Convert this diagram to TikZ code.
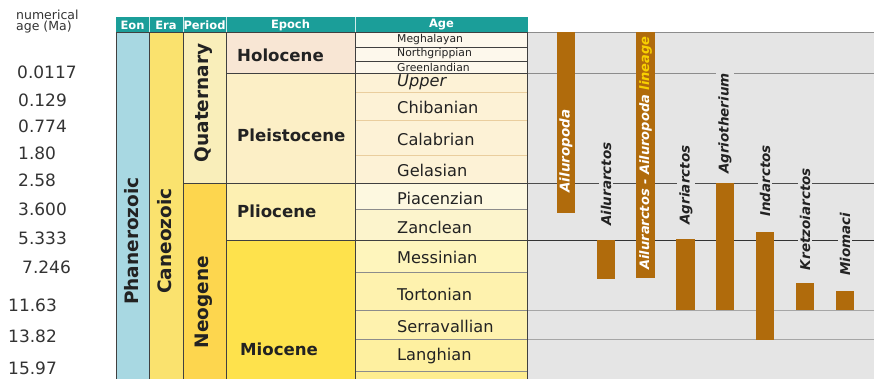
\documentclass[tikz,border=0pt]{standalone}
\usepackage{fontspec}
\setmainfont{DejaVu Sans}
\definecolor{hdr}{RGB}{27,158,153}
\definecolor{eonC}{RGB}{168,216,226}
\definecolor{eraC}{RGB}{250,226,110}
\definecolor{quatC}{RGB}{249,238,186}
\definecolor{neoC}{RGB}{253,214,78}
\definecolor{holC}{RGB}{248,230,212}
\definecolor{pleC}{RGB}{252,239,198}
\definecolor{pliC}{RGB}{253,240,178}
\definecolor{mioC}{RGB}{254,226,76}
\definecolor{holA}{RGB}{253,248,236}
\definecolor{pleA}{RGB}{253,242,214}
\definecolor{pliA}{RGB}{252,244,204}
\definecolor{mioA}{RGB}{254,240,160}
\definecolor{panel}{RGB}{229,229,229}
\definecolor{bar}{RGB}{176,107,12}
\definecolor{linY}{RGB}{248,208,0}
\definecolor{txt}{RGB}{34,34,34}
\definecolor{numT}{RGB}{51,51,51}
\begin{document}
\begin{tikzpicture}[x=1pt,y=-1pt,
  hd/.style={font=\fontsize{11.5}{12}\selectfont\bfseries, text=white, inner sep=0},
  agel/.style={font=\fontsize{16.2}{18}\selectfont, text=txt, anchor=west, inner sep=0},
  agesm/.style={font=\fontsize{10.8}{12}\selectfont, text=txt, anchor=west, inner sep=0},
  epl/.style={font=\fontsize{16.6}{18}\selectfont\bfseries, text=txt, anchor=west, inner sep=0},
  perl/.style={font=\fontsize{18.5}{20}\selectfont\bfseries, text=txt, rotate=90, inner sep=0},
  numl/.style={font=\fontsize{17}{19}\selectfont, text=numT, anchor=west, inner sep=0},
  taxon/.style={font=\fontsize{13.5}{15}\selectfont\bfseries\itshape, text=txt, rotate=90, fill=panel, inner xsep=4, inner ysep=2},
  taxw/.style={font=\fontsize{13.5}{15}\selectfont\bfseries\itshape, text=white, rotate=90, inner sep=0},
  barbox/.style={fill=bar, draw=none},
  cellline/.style={draw=black!75, line width=0.9},
  softline/.style={draw=black!45, line width=0.9},
  faintline/.style={draw=pleC!70!brown, line width=0.6},
]
\useasboundingbox (0,0) rectangle (874,379);
\fill[white] (0,0) rectangle (874,379);

% header
\fill[hdr] (116,17) rectangle (528,32);
\foreach \x in {149,183,226,355} \draw[white!80!hdr, line width=0.8] (\x,17) -- (\x,32);
\node[hd] (hEon) at (132.5,25) {Eon};
\node[hd] (hEra) at (166,25) {Era};
\node[hd] (hPer) at (204.5,25) {Period};
\node[hd] (hEpo) at (290.5,25) {Epoch};
\node[hd] (hAge) at (441.5,25) {Age};

% columns
\fill[eonC] (116,32) rectangle (149,379);
\fill[eraC] (149,32) rectangle (183,379);
\fill[quatC] (183,32) rectangle (226,183);
\fill[neoC] (183,183) rectangle (226,379);
\fill[holC] (226,32) rectangle (355,73);
\fill[pleC] (226,73) rectangle (355,183);
\fill[pliC] (226,183) rectangle (355,240);
\fill[mioC] (226,240) rectangle (355,379);
% ages
\fill[holA] (355,32) rectangle (528,73);
\fill[pleA] (355,73) rectangle (528,183);
\fill[pliA!60!white] (355,183) rectangle (528,209);
\fill[pliA] (355,209) rectangle (528,240);
\fill[mioA!70!white] (355,240) rectangle (528,272);
\fill[mioA!85!white] (355,272) rectangle (528,310);
\fill[mioA!85!white] (355,310) rectangle (528,339);
\fill[mioA] (355,339) rectangle (528,371);
\fill[mioA!80!mioC] (355,371) rectangle (528,379);

% right panel
\fill[panel] (528,32) rectangle (874,379);

% age row lines
\draw[faintline] (355,92) -- (528,92);
\draw[faintline] (355,120) -- (528,120);
\draw[faintline] (355,155) -- (528,155);
\draw[softline] (355,209) -- (528,209);
\draw[softline] (355,272) -- (528,272);
\draw[softline] (355,310) -- (528,310);
\draw[softline] (355,339) -- (528,339);
\draw[softline] (355,371) -- (528,371);
\draw[cellline] (355,47) -- (528,47);
\draw[cellline] (355,61) -- (528,61);

% main table lines
\draw[cellline] (226,73) -- (528,73);
\draw[cellline] (183,183) -- (528,183);
\draw[cellline] (226,240) -- (528,240);
\draw[cellline] (116,32) -- (528,32);
\foreach \x in {116,149,183,226,355,527.5} \draw[cellline] (\x,32) -- (\x,379);

% panel lines
\draw[draw=black!45, line width=0.9] (528,32) -- (874,32);
\draw[draw=black!45, line width=0.9] (528,73) -- (874,73);
\draw[draw=black!70, line width=0.9] (528,183) -- (874,183);
\draw[draw=black!80, line width=0.9] (528,240) -- (874,240);
\draw[draw=black!35, line width=0.9] (528,310) -- (874,310);
\draw[draw=black!35, line width=0.9] (528,339) -- (874,339);

% rotated column labels
\node[perl] (eon) at (132,241) {Phanerozoic};
\node[perl] (era) at (165,241) {Caneozoic};
\node[perl] (quat) at (204,103) {Quaternary};
\node[perl] (neo) at (204,302) {Neogene};

% epochs
\node[epl] (hol) at (237,55) {Holocene};
\node[epl] (ple) at (237,135) {Pleistocene};
\node[epl] (pli) at (237,211) {Pliocene};
\node[epl] (mio) at (240,349) {Miocene};

% ages
\node[agesm] (meg) at (397,39.5) {Meghalayan};
\node[agesm] (nor) at (397,54) {Northgrippian};
\node[agesm] (gre) at (397,67) {Greenlandian};
\node[agel, font=\fontsize{16.2}{18}\selectfont\itshape] (upp) at (397,82) {Upper};
\node[agel] (chi) at (397,107) {Chibanian};
\node[agel] (cal) at (397,139) {Calabrian};
\node[agel] (gel) at (397,170) {Gelasian};
\node[agel] (pia) at (397,198) {Piacenzian};
\node[agel] (zan) at (397,227) {Zanclean};
\node[agel] (mes) at (397,257) {Messinian};
\node[agel] (tor) at (397,294) {Tortonian};
\node[agel] (ser) at (397,326) {Serravallian};
\node[agel] (lan) at (397,356) {Langhian};

% numerical ages
\node[font=\fontsize{12.5}{11}\selectfont, text=numT, align=left, anchor=north west, inner sep=0] (numh) at (16,10) {numerical\\age (Ma)};
\node[numl] (n1) at (17,72.5) {0.0117};
\node[numl] (n2) at (18,100) {0.129};
\node[numl] (n3) at (18,126) {0.774};
\node[numl] (n4) at (18,153) {1.80};
\node[numl] (n5) at (18,180) {2.58};
\node[numl] (n6) at (18,209) {3.600};
\node[numl] (n7) at (18,238) {5.333};
\node[numl] (n8) at (22,267) {7.246};
\node[numl] (n9) at (8,305) {11.63};
\node[numl] (n10) at (8,336) {13.82};
\node[numl] (n11) at (8,368) {15.97};

% bars
\fill[barbox] (557,32) rectangle (575,213);
\fill[barbox] (597,240) rectangle (615,279);
\fill[barbox] (636,32) rectangle (655,278);
\fill[barbox] (676,239) rectangle (695,310);
\fill[barbox] (716,183) rectangle (734,310);
\fill[barbox] (756,232) rectangle (774,340);
\fill[barbox] (796,283) rectangle (814,310);
\fill[barbox] (836,291) rectangle (854,310);

% taxon labels
\node[taxw] (tAilu) at (566,151) {Ailuropoda};
\node[taxw, font=\fontsize{13}{15}\selectfont\bfseries\itshape] (tLin) at (645.5,153) {Ailurarctos - Ailuropoda {\color{linY}lineage}};
\node[taxon] (tAilr) at (606,184) {Ailurarctos};
\node[taxon] (tAgri) at (686,185) {Agriarctos};
\node[taxon] (tAgth) at (725,123.5) {Agriotherium};
\node[taxon] (tInd) at (765,181) {Indarctos};
\node[taxon] (tKre) at (805,219) {Kretzoiarctos};
\node[taxon] (tMio) at (845,244) {Miomaci};
\end{tikzpicture}
\end{document}
